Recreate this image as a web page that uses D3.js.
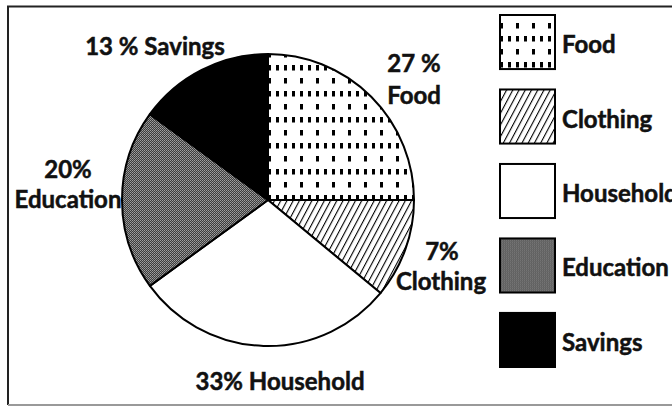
<!DOCTYPE html>
<html>
<head>
<meta charset="utf-8">
<script src="https://cdn.jsdelivr.net/npm/d3@7/dist/d3.min.js"></script>
<style>
  body { margin: 0; background: #fff; }
  text { font-family: Lato, "Open Sans", sans-serif; font-weight: bold; fill: #111; stroke: #111; stroke-width: 0.5; }
</style>
</head>
<body>
<script>
const width = 672;
const height = 407;

// slice sizes as drawn in the picture (share of the full circle, %)
const categories = ['Food', 'Clothing', 'Household', 'Education', 'Savings'];
const shares = [25, 11, 29, 20, 15];
// the percentages written next to the slices
const pct_labels = ['27 %', '7%', '33%', '20%', '13 %'];
const fills = ['url(#pat_food)', 'url(#pat_cloth)', '#fff', 'url(#pat_edu)', '#000'];

const cx = 268, cy = 200, radius = 146;

const svg = d3.select('body')
    .append('svg')
    .attr('width', width)
    .attr('height', height);

const defs = svg.append('defs');

// food: small vertical dashes, alternating sparse / dense rows
const food = defs.append('pattern')
    .attr('id', 'pat_food')
    .attr('patternUnits', 'userSpaceOnUse')
    .attr('x', cx + 4).attr('y', cy - 140)
    .attr('width', 16).attr('height', 26);
food.append('rect').attr('width', 16).attr('height', 26).attr('fill', '#fff');
[[0, 0], [0, 13], [8, 13]].forEach(d => {
  food.append('rect')
      .attr('x', d[0]).attr('y', d[1])
      .attr('width', 3).attr('height', 5.5)
      .attr('fill', '#000');
});

// clothing: diagonal hatch
const cloth = defs.append('pattern')
    .attr('id', 'pat_cloth')
    .attr('patternUnits', 'userSpaceOnUse')
    .attr('width', 5.5).attr('height', 5.5)
    .attr('patternTransform', 'rotate(28)');
cloth.append('rect').attr('width', 5.5).attr('height', 5.5).attr('fill', '#fff');
cloth.append('line')
    .attr('x1', 0).attr('y1', 0).attr('x2', 0).attr('y2', 5.5)
    .attr('stroke', '#000').attr('stroke-width', 2.2);

// education: grey dither
const edu = defs.append('pattern')
    .attr('id', 'pat_edu')
    .attr('patternUnits', 'userSpaceOnUse')
    .attr('width', 2).attr('height', 2);
edu.append('rect').attr('width', 2).attr('height', 2).attr('fill', '#3c3c3c');
edu.append('rect').attr('width', 1).attr('height', 1).attr('fill', '#a0a0a0');
edu.append('rect').attr('x', 1).attr('y', 1).attr('width', 1).attr('height', 1).attr('fill', '#8a8a8a');

// frame
svg.append('path')
    .attr('d', `M${width + 5},6.5 H8 V405`)
    .attr('fill', 'none')
    .attr('stroke', '#222')
    .attr('stroke-width', 2);
svg.append('line')
    .attr('x1', 8).attr('x2', width)
    .attr('y1', 405).attr('y2', 405)
    .attr('stroke', '#999')
    .attr('stroke-width', 2);

const pie = d3.pie().sort(null).value(d => d);
const arc = d3.arc().innerRadius(0).outerRadius(radius);

svg.append('g')
    .attr('transform', `translate(${cx},${cy})`)
    .selectAll('path')
    .data(pie(shares))
    .join('path')
    .attr('d', arc)
    .attr('fill', (d, i) => fills[i])
    .attr('stroke', '#000')
    .attr('stroke-width', 2)
    .attr('stroke-linejoin', 'round');

// slice labels
const label_layout = [
  [[414, 72, pct_labels[0]], [414, 104, categories[0]]],
  [[442, 260, pct_labels[1]], [441, 290, categories[1]]],
  [[280, 390, pct_labels[2] + ' ' + categories[2]]],
  [[68, 178, pct_labels[3]], [68, 208, categories[3]]],
  [[155, 55, pct_labels[4] + ' ' + categories[4]]]
];
svg.append('g')
    .selectAll('text')
    .data(label_layout.flat())
    .join('text')
    .attr('x', d => d[0])
    .attr('y', d => d[1])
    .attr('text-anchor', 'middle')
    .attr('font-size', 24)
    .text(d => d[2]);

// legend
const ly = d3.scaleBand()
    .domain(categories)
    .range([15, 367])
    .paddingInner(0.274);

const legend = svg.append('g')
    .selectAll('g')
    .data(categories)
    .join('g')
    .attr('transform', d => `translate(500,${ly(d)})`);

legend.append('rect')
    .attr('width', 55)
    .attr('height', ly.bandwidth())
    .attr('fill', (d, i) => fills[i])
    .attr('stroke', '#000')
    .attr('stroke-width', 2);

legend.append('text')
    .attr('x', 62)
    .attr('y', ly.bandwidth() / 2 + 11)
    .attr('font-size', 24)
    .text(d => d);
</script>
</body>
</html>
